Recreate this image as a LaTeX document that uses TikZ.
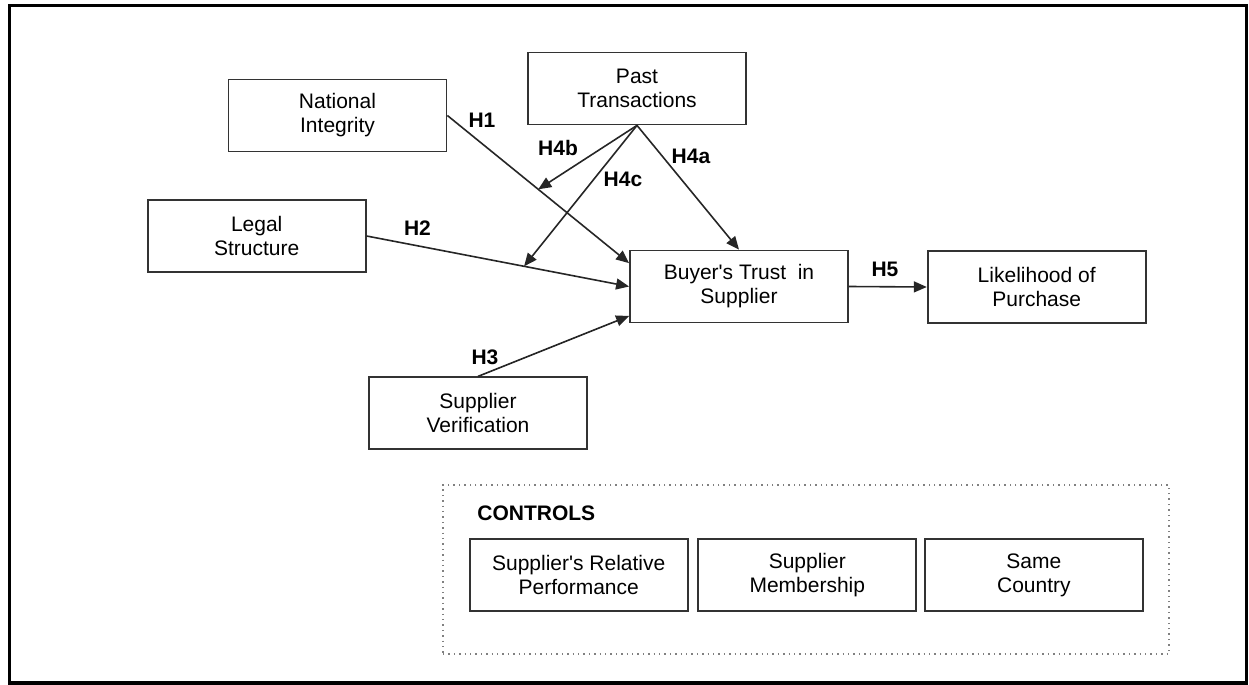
\documentclass[tikz,border=0pt]{standalone}
\usepackage{fontspec}
\setmainfont{Liberation Sans}
\usetikzlibrary{arrows.meta,calc}

\begin{document}
\begin{tikzpicture}[x=0.5pt,y=-0.5pt,
>={Triangle[length=6.5pt,width=5.5pt]},
factor/.style={rectangle, draw=black!80, line width=0.9pt, minimum width=109pt, minimum height=36pt, inner sep=0pt, align=center, font=\fontsize{10.5}{12}\selectfont},
hyp/.style={inner sep=0pt, font=\fontsize{10.5}{12}\selectfont\bfseries},
link/.style={->, line width=0.8pt, draw=black!85},
]
\useasboundingbox (0,0) rectangle (1249,685);
\draw[line width=1.6pt] (9.5,5.5) rectangle (1246.5,683);

% constructs
\node[factor]            (ni)      at (337.5,115.5)  {National\\Integrity};
\node[factor]            (pt)      at (637,88.5)     {Past\\Transactions};
\node[factor]            (ls)      at (256.7,236)    {Legal\\Structure};
\node[factor]            (bt)      at (739,286.5)    {Buyer\textquotesingle s Trust\ \ in\\Supplier};
\node[factor]            (lp)      at (1036.7,287)   {Likelihood of\\Purchase};
\node[factor]            (sv)      at (478,413.3)    {Supplier\\Verification};

% controls
\node[draw=black!50, dotted, line width=0.7pt, minimum width=363pt, minimum height=84.5pt, inner sep=0pt]
                         (ctrl)    at (806,569.5)    {};
\node[anchor=west, inner sep=0pt, font=\fontsize{10.5}{12}\selectfont\bfseries]
                         (ctrlhd)  at (477,513)      {CONTROLS};
\node[factor]            (c1)      at (578.7,575)    {Supplier\textquotesingle s Relative\\Performance};
\node[factor]            (c2)      at (807.3,575)    {Supplier\\Membership};
\node[factor]            (c3)      at (1033.9,575)   {Same\\Country};

% moderation targets
\coordinate (h4btip) at ($(ni.east)!0.5!(bt.168)$);
\coordinate (h4ctip) at ($(ls.east)!0.6!(bt.west)$);

\draw[link] (ni.east) -- (bt.168);
\draw[link] (ls.east) -- (bt.west);
\draw[link] (sv.north) -- (bt.195);
\draw[link] (pt.south) -- (bt.north);
\draw[link] (pt.south) -- (h4btip);
\draw[link] (pt.south) -- (h4ctip);
\draw[link] (bt.east) -- (lp.west);

% hypothesis labels
\node[hyp] (lh1)  at (482,120)  {H1};
\node[hyp] (lh2)  at (417.5,227.7) {H2};
\node[hyp] (lh3)  at (485,357.7) {H3};
\node[hyp] (lh4a) at (691,156)  {H4a};
\node[hyp] (lh4b) at (558,148)  {H4b};
\node[hyp] (lh4c) at (623,179)  {H4c};
\node[hyp] (lh5)  at (885,269)  {H5};
\end{tikzpicture}
\end{document}
